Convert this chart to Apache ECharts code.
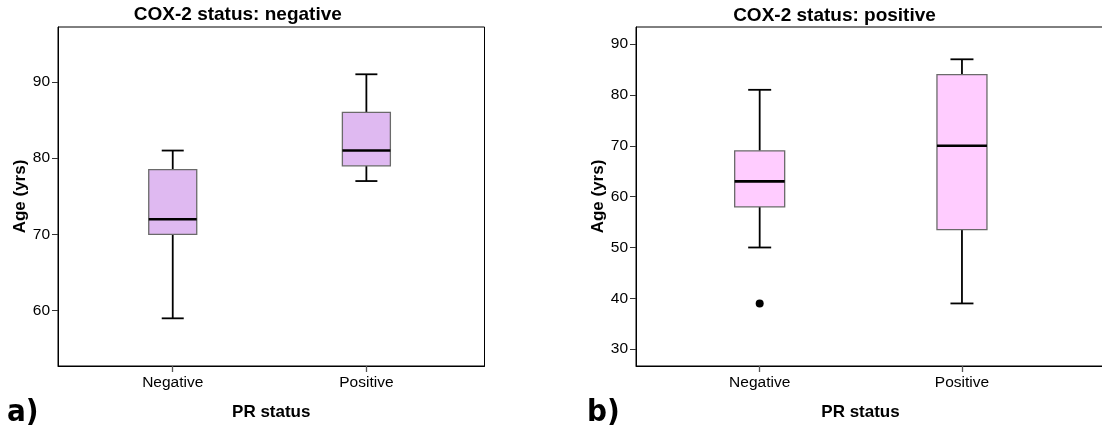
<!DOCTYPE html>
<html><head><meta charset="utf-8">
<script src="https://cdn.jsdelivr.net/npm/echarts@6/dist/echarts.min.js"></script>
<style>html,body{margin:0;padding:0;background:#fff}#c{width:1102px;height:430px}</style>
</head><body><div id="c"></div>
<script>
// ---- data ----
const categories = ['Negative', 'Positive'];
// five-number summaries [min, Q1, median, Q3, max] per PR status
const coxNegBoxes = [[59, 70, 72, 78.5, 81], [77, 79, 81, 86, 91]];
const coxPosBoxes = [[50, 58, 63, 69, 81], [39, 53.5, 70, 84, 87]];
// outliers [categoryIndex, value]
const coxNegOutliers = [];
const coxPosOutliers = [[0, 39]];
const yTicksA = [60, 70, 80, 90];
const yTicksB = [30, 40, 50, 60, 70, 80, 90];
const titles = ['COX-2 status: negative', 'COX-2 status: positive'];
const panelLetters = ['a)', 'b)'];
const xName = 'PR status';
const yName = 'Age (yrs)';

// ---- styles ----
const FONT = 'Liberation Sans, Arial, sans-serif';
const panels = [
  { grid: { left: 58, top: 27, width: 426.5, height: 339 }, xMin: 0.4075, xMax: 2.61, yMin: 52.75, yMax: 97.2,
    ticks: yTicksA, boxes: coxNegBoxes, outliers: coxNegOutliers, fill: '#DFB9F1', boxW: 48, capW: 22, namePad: [0, 0, 0, 0] },
  { grid: { left: 636, top: 27, width: 471, height: 339 }, xMin: 0.3886, xMax: 2.717, yMin: 26.7, yMax: 93.35,
    ticks: yTicksB, boxes: coxPosBoxes, outliers: coxPosOutliers, fill: '#FFCCFF', boxW: 50, capW: 23, namePad: [0, 22, 0, 0] }
];

function renderBox(p) {
  return function (params, api) {
    const x = api.value(0);
    const vMin = api.coord([x, api.value(1)]);
    const vQ1 = api.coord([x, api.value(2)]);
    const vMed = api.coord([x, api.value(3)]);
    const vQ3 = api.coord([x, api.value(4)]);
    const vMax = api.coord([x, api.value(5)]);
    const cx = vMed[0];
    const hw = p.boxW / 2, hc = p.capW / 2;
    const line = (x1, y1, x2, y2, w) => ({ type: 'line', shape: { x1, y1, x2, y2 }, style: { stroke: '#000', lineWidth: w } });
    return {
      type: 'group',
      children: [
        line(cx, vQ3[1], cx, vMax[1], 1.8),
        line(cx, vMin[1], cx, vQ1[1], 1.8),
        line(cx - hc, vMax[1], cx + hc, vMax[1], 1.8),
        line(cx - hc, vMin[1], cx + hc, vMin[1], 1.8),
        { type: 'rect', shape: { x: cx - hw, y: vQ3[1], width: p.boxW, height: vQ1[1] - vQ3[1] },
          style: { fill: p.fill, stroke: '#6a6a6a', lineWidth: 1.3 } },
        line(cx - hw, vMed[1], cx + hw, vMed[1], 2.6)
      ]
    };
  };
}

const option = {
  animation: false,
  backgroundColor: '#fff',
  grid: panels.map(p => Object.assign({ show: true, borderColor: '#000', borderWidth: 1, containLabel: false, outerBoundsMode: 'none' }, p.grid)),
  xAxis: panels.map((p, i) => ({
    gridIndex: i, type: 'value', min: p.xMin, max: p.xMax,
    axisLine: { show: true, lineStyle: { color: '#000', width: 1 } },
    axisTick: { show: true, length: 6, customValues: [1, 2], lineStyle: { color: '#555', width: 1.3 } },
    axisLabel: { customValues: [1, 2], formatter: v => categories[Math.round(v) - 1] || '', fontSize: 15.5, color: '#000', margin: 9, fontFamily: FONT },
    splitLine: { show: false },
    name: xName, nameLocation: 'middle', nameGap: 38,
    nameTextStyle: { fontWeight: 'bold', fontSize: 17, color: '#000', fontFamily: FONT, padding: p.namePad }
  })),
  yAxis: panels.map((p, i) => ({
    gridIndex: i, type: 'value', min: p.yMin, max: p.yMax,
    axisLine: { show: true, lineStyle: { color: '#000', width: 1 } },
    axisTick: { show: true, length: 6, customValues: p.ticks, lineStyle: { color: '#333', width: 1 } },
    axisLabel: { customValues: p.ticks, fontSize: 15.5, color: '#000', margin: 8, fontFamily: FONT },
    splitLine: { show: false },
    name: yName, nameLocation: 'middle', nameGap: 29,
    nameTextStyle: { fontWeight: 'bold', fontSize: 17, color: '#000', fontFamily: FONT }
  })),
  series: [].concat(...panels.map((p, i) => [
    {
      type: 'custom', xAxisIndex: i, yAxisIndex: i,
      data: p.boxes.map((b, k) => [k + 1].concat(b)),
      encode: { x: 0, y: [1, 2, 3, 4, 5] },
      renderItem: renderBox(p)
    },
    {
      type: 'scatter', xAxisIndex: i, yAxisIndex: i,
      data: p.outliers.map(o => [o[0] + 1, o[1]]),
      symbol: 'circle', symbolSize: 8, itemStyle: { color: '#000', opacity: 1 }
    }
  ])),
  graphic: [
    { type: 'text', x: 237.8, y: 14.5, style: { text: titles[0], font: 'bold 19px ' + FONT, fill: '#000', textAlign: 'center', textVerticalAlign: 'middle', align: 'center', verticalAlign: 'middle' } },
    { type: 'text', x: 834.5, y: 15.5, style: { text: titles[1], font: 'bold 19px ' + FONT, fill: '#000', textAlign: 'center', textVerticalAlign: 'middle', align: 'center', verticalAlign: 'middle' } },
    { type: 'text', x: 7, y: 413, style: { text: panelLetters[0], font: 'bold 31px "DejaVu Sans Condensed", "DejaVu Sans", sans-serif', fill: '#000', textAlign: 'left', textVerticalAlign: 'middle', align: 'left', verticalAlign: 'middle' } },
    { type: 'text', x: 587, y: 413, style: { text: panelLetters[1], font: 'bold 31px "DejaVu Sans Condensed", "DejaVu Sans", sans-serif', fill: '#000', textAlign: 'left', textVerticalAlign: 'middle', align: 'left', verticalAlign: 'middle' } }
  ]
};

const chart = echarts.init(document.getElementById('c'), null, { renderer: 'canvas' });
chart.setOption(option);
</script>
</body></html>
